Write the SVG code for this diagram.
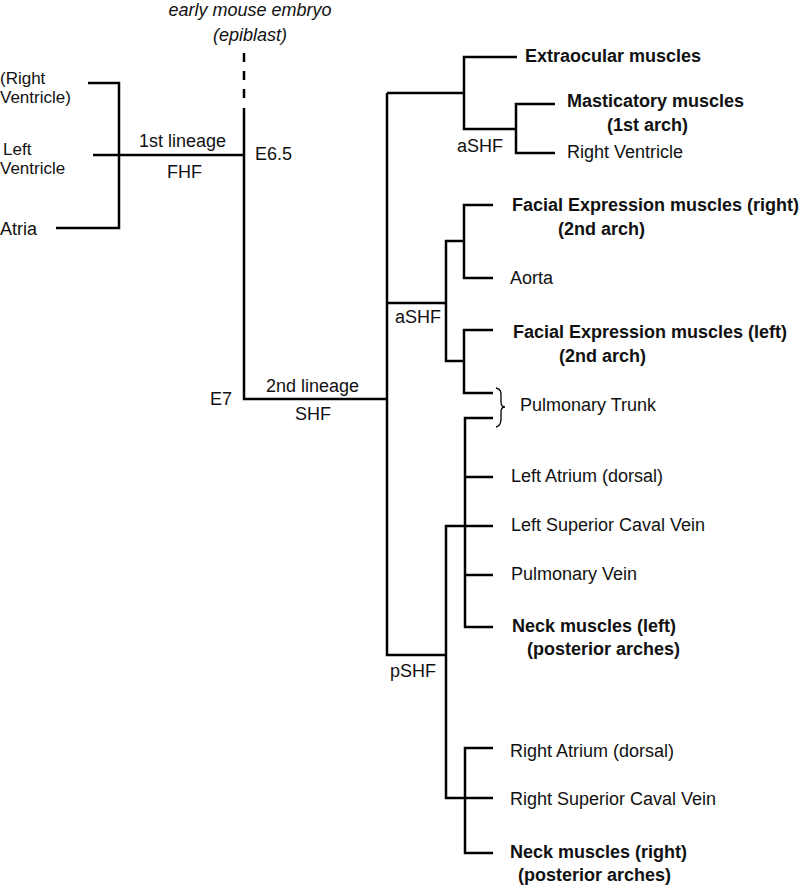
<svg xmlns="http://www.w3.org/2000/svg" width="805" height="890" viewBox="0 0 805 890">
<style>
text{font-family:"Liberation Sans",Arial,sans-serif;font-size:18px;fill:#111}
.b{font-weight:bold}
.i{font-style:italic}
.m{text-anchor:middle}
.s{font-size:17px}
.ln{stroke:#000;stroke-width:2.5;fill:none;stroke-linecap:butt;stroke-linejoin:miter}
</style>
<rect width="805" height="890" fill="#fff"/>
<g id="connectors" class="ln">
<path d="M244,53 V100" stroke-dasharray="9,9"/>
<path d="M244,108 V399 H387"/>
<path d="M93,155 H244"/>
<path d="M88,83 H119 V228 H56"/>
<path d="M387,93 V655 H446"/>
<path d="M387,93 H464"/>
<path d="M517,57 H464 V129 H516"/>
<path d="M555,104 H516 V153 H555"/>
<path d="M387,303 H446"/>
<path d="M464,241 H446 V361 H464"/>
<path d="M493,205 H464 V278 H493"/>
<path d="M493,330 H464 V393 H493"/>
<path d="M465,526 H446 V798 H465"/>
<path d="M493,418 H465 V627 H493"/>
<path d="M493,477 H465"/>
<path d="M493,526 H465"/>
<path d="M493,575 H465"/>
<path d="M493,748 H465 V853 H493"/>
<path d="M493,798 H465"/>
<path d="M496,388 C501,389 501,392 501,396 V402 C501,405 502,407 505,407 C502,407 501,409 501,412 V419 C501,423 500,426 496,427" stroke-width="1.3"/>
</g>
<g id="root"><text class="i m" x="250" y="16">early mouse embryo</text><text class="i m" x="250" y="41">(epiblast)</text></g>
<g id="rv1"><text class="s" x="0" y="84">(Right</text><text class="s" x="0" y="103">Ventricle)</text></g>
<g id="lv"><text class="s" x="3" y="155">Left</text><text class="s" x="0" y="174">Ventricle</text></g>
<g id="atria"><text x="0" y="235">Atria</text></g>
<g id="fhf"><text x="139" y="147">1st lineage</text><text x="167" y="178">FHF</text><text x="255" y="160">E6.5</text></g>
<g id="shf"><text x="266" y="392">2nd lineage</text><text x="295" y="420">SHF</text><text x="210" y="405">E7</text></g>
<g id="extra"><text class="b" x="525" y="62">Extraocular muscles</text></g>
<g id="ashf1"><text x="457" y="152">aSHF</text></g>
<g id="mast"><text class="b" x="567" y="107">Masticatory muscles</text><text class="b" x="607" y="131">(1st arch)</text></g>
<g id="rv2"><text x="567" y="158">Right Ventricle</text></g>
<g id="fer"><text class="b" x="512" y="211">Facial Expression muscles (right)</text><text class="b" x="558" y="235">(2nd arch)</text></g>
<g id="aorta"><text x="510" y="284">Aorta</text></g>
<g id="ashf2"><text x="395" y="323">aSHF</text></g>
<g id="fel"><text class="b" x="513" y="338">Facial Expression muscles (left)</text><text class="b" x="559" y="362">(2nd arch)</text></g>
<g id="pt"><text x="520" y="411">Pulmonary Trunk</text></g>
<g id="la"><text x="511" y="482">Left Atrium (dorsal)</text></g>
<g id="lscv"><text x="511" y="531">Left Superior Caval Vein</text></g>
<g id="pv"><text x="511" y="580">Pulmonary Vein</text></g>
<g id="nml"><text class="b" x="512" y="632">Neck muscles (left)</text><text class="b" x="527" y="655">(posterior arches)</text></g>
<g id="pshf"><text x="390" y="677">pSHF</text></g>
<g id="ra"><text x="510" y="757">Right Atrium (dorsal)</text></g>
<g id="rscv"><text x="510" y="805">Right Superior Caval Vein</text></g>
<g id="nmr"><text class="b" x="510" y="858">Neck muscles (right)</text><text class="b" x="518" y="881">(posterior arches)</text></g>
</svg>
